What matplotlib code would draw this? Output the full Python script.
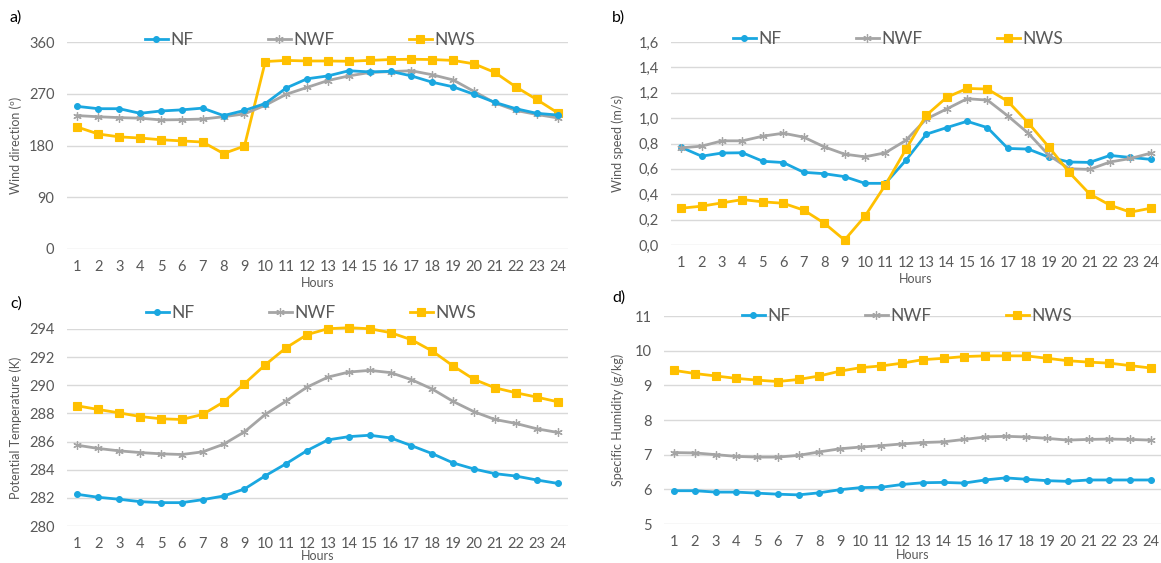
import matplotlib
matplotlib.use('Agg')
import matplotlib.pyplot as plt
from matplotlib.ticker import FuncFormatter, FixedLocator

plt.rcParams['font.family'] = ['Lato', 'DejaVu Sans']

hours = list(range(1, 25))
series_names = ['NF', 'NWF', 'NWS']
panel_letters = ['a)', 'b)', 'c)', 'd)']

wd_nf = [248, 244, 244, 236, 240, 242, 245, 232, 241, 253, 280, 296, 301, 310, 308, 309, 301, 290, 282, 269, 255, 244, 236, 233]
wd_nwf = [232, 230, 228.5, 227.5, 224.5, 225, 226, 230, 235, 250, 269, 281, 293, 301, 307, 308.5, 310, 303, 294, 274, 254, 241, 234, 228]
wd_nws = [212, 200, 195, 193, 190, 188, 186, 166, 179, 326, 328, 327, 327, 326.5, 328, 329.5, 330, 329.5, 328, 322, 307, 282, 260, 237]

ws_nf = [0.77, 0.70, 0.725, 0.727, 0.66, 0.65, 0.573, 0.562, 0.539, 0.486, 0.486, 0.667, 0.873, 0.925, 0.975, 0.925, 0.761, 0.756, 0.693, 0.654, 0.651, 0.706, 0.690, 0.675]
ws_nwf = [0.766, 0.779, 0.821, 0.821, 0.858, 0.881, 0.850, 0.774, 0.716, 0.695, 0.727, 0.824, 0.993, 1.072, 1.153, 1.142, 1.017, 0.881, 0.708, 0.601, 0.596, 0.654, 0.682, 0.724]
ws_nws = [0.290, 0.306, 0.332, 0.358, 0.340, 0.329, 0.275, 0.173, 0.039, 0.227, 0.473, 0.753, 1.022, 1.163, 1.234, 1.229, 1.132, 0.962, 0.774, 0.573, 0.403, 0.314, 0.259, 0.290]

pt_nf = [282.25, 282.04, 281.90, 281.73, 281.66, 281.66, 281.87, 282.13, 282.63, 283.57, 284.43, 285.36, 286.12, 286.35, 286.45, 286.26, 285.71, 285.14, 284.48, 284.05, 283.72, 283.55, 283.27, 283.03]
pt_nwf = [285.74, 285.51, 285.34, 285.22, 285.13, 285.08, 285.27, 285.81, 286.69, 287.93, 288.88, 289.87, 290.58, 290.94, 291.06, 290.90, 290.40, 289.73, 288.85, 288.12, 287.57, 287.29, 286.91, 286.65]
pt_nws = [288.54, 288.28, 288.04, 287.78, 287.62, 287.57, 287.93, 288.81, 290.11, 291.46, 292.67, 293.60, 294.02, 294.09, 294.02, 293.74, 293.24, 292.43, 291.37, 290.42, 289.82, 289.47, 289.16, 288.83]

sh_nf = [5.96, 5.96, 5.92, 5.92, 5.89, 5.86, 5.84, 5.90, 5.99, 6.05, 6.06, 6.14, 6.19, 6.20, 6.18, 6.27, 6.33, 6.29, 6.25, 6.23, 6.27, 6.27, 6.27, 6.27]
sh_nwf = [7.06, 7.05, 7.00, 6.95, 6.93, 6.93, 6.98, 7.08, 7.17, 7.22, 7.26, 7.31, 7.35, 7.37, 7.44, 7.51, 7.53, 7.51, 7.47, 7.42, 7.44, 7.45, 7.44, 7.42]
sh_nws = [9.43, 9.34, 9.27, 9.20, 9.15, 9.11, 9.17, 9.27, 9.41, 9.51, 9.56, 9.64, 9.74, 9.78, 9.83, 9.85, 9.85, 9.85, 9.78, 9.71, 9.67, 9.64, 9.57, 9.50]

y_labels = ['Wind direction (º)', 'Wind speed (m/s)', 'Potential Temperature (K)', 'Specific Humidity (g/kg)']
y_ticks_a = [0, 90, 180, 270, 360]
y_ticks_b = [0.0, 0.2, 0.4, 0.6, 0.8, 1.0, 1.2, 1.4, 1.6]
y_ticks_c = [280, 282, 284, 286, 288, 290, 292, 294]
y_ticks_d = [5, 6, 7, 8, 9, 10, 11]

colors = ['#1AA7E0', '#A5A5A5', '#FFC000']
markers = ['o', (6, 2, 0), 's']
msizes = [4.2, 6.0, 5.2]
mews = [0.8, 0.9, 0.8]
TXT = '#595959'
GRID = '#D9D9D9'

W, H = 1161, 563
fig = plt.figure(figsize=(W / 100, H / 100), dpi=100)


def add_ax(l, r, t, b):
    return fig.add_axes([l / W, 1 - b / H, (r - l) / W, (b - t) / H])


panels = [
    dict(box=(67, 568, 42, 249), data=[wd_nf, wd_nwf, wd_nws], ticks=y_ticks_a, fmt=lambda v, p: f'{v:g}',
         leg=(310, 40), lab=(10, 18), xl=28),
    dict(box=(671, 1161, 42, 245), data=[ws_nf, ws_nwf, ws_nws], ticks=y_ticks_b,
         fmt=lambda v, p: f'{v:.1f}'.replace('.', ','), leg=(898, 39), lab=(612, 18), xl=28),
    dict(box=(67, 568, 329, 526), data=[pt_nf, pt_nwf, pt_nws], ticks=y_ticks_c, fmt=lambda v, p: f'{v:g}',
         leg=(311, 313), lab=(10, 304), xl=24),
    dict(box=(664, 1161, 316, 524), data=[sh_nf, sh_nwf, sh_nws], ticks=y_ticks_d, fmt=lambda v, p: f'{v:g}',
         leg=(907, 316), lab=(612, 298), xl=25),
]

for i, pnl in enumerate(panels):
    l, r, t, b = pnl['box']
    ax = add_ax(l, r, t, b)
    handles = []
    for s, vals in enumerate(pnl['data']):
        h, = ax.plot(hours, vals, color=colors[s], lw=2.0, marker=markers[s], ms=msizes[s],
                     mew=mews[s], mec=colors[s], mfc=colors[s], label=series_names[s],
                     clip_on=False, zorder=3 + (2 - s if i != 1 else s))
        handles.append(h)
    ax.set_xlim(0.5, 24.5)
    ax.set_ylim(pnl['ticks'][0], pnl['ticks'][-1])
    ax.xaxis.set_major_locator(FixedLocator(hours))
    ax.yaxis.set_major_locator(FixedLocator(pnl['ticks']))
    ax.yaxis.set_major_formatter(FuncFormatter(pnl['fmt']))
    for sp in ax.spines.values():
        sp.set_visible(False)
    ax.grid(axis='y', color=GRID, lw=1.0)
    ax.set_axisbelow(True)
    ax.tick_params(length=0, labelsize=10.5, labelcolor=TXT)
    ax.tick_params(axis='y', pad=9)
    ax.tick_params(axis='x', pad=8)
    ax.set_ylabel(y_labels[i], fontsize=9, color=TXT)
    ax.yaxis.set_label_coords(-(l - (22 if l < 300 else 624)) / (r - l), 0.5)
    ax.set_xlabel('Hours', fontsize=9, color=TXT)
    ax.xaxis.set_label_coords(0.5, -pnl['xl'] / (b - t))
    leg = ax.legend(handles=handles, loc='center', bbox_to_anchor=(pnl['leg'][0] / W, 1 - pnl['leg'][1] / H),
                    bbox_transform=fig.transFigure, ncol=3, frameon=False, columnspacing=4.3,
                    handlelength=1.3, handletextpad=0.15, fontsize=12.5, labelcolor=TXT, borderpad=0)
    fig.text(pnl['lab'][0] / W, 1 - pnl['lab'][1] / H, panel_letters[i], fontsize=11.5, color='black',
             ha='left', va='center')

fig.savefig('out.png', dpi=100)
